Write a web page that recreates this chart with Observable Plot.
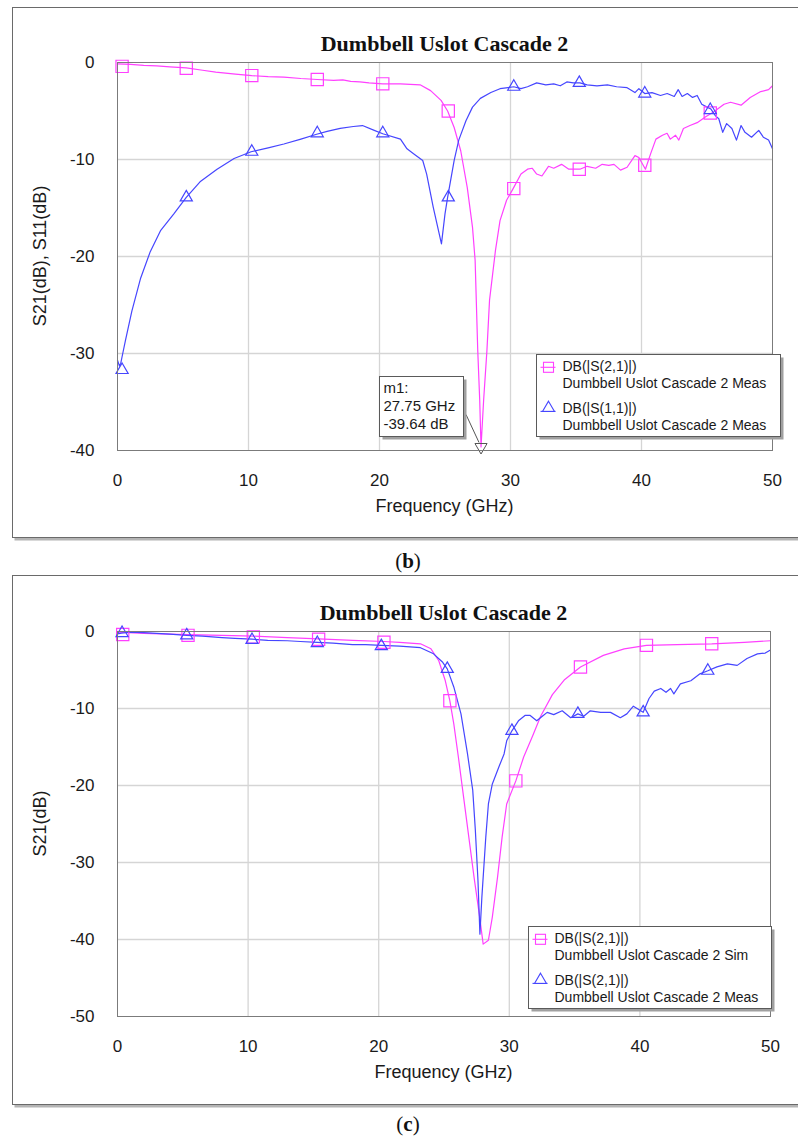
<!DOCTYPE html>
<html>
<head>
<meta charset="utf-8">
<script src="https://cdn.jsdelivr.net/npm/d3@7"></script>
<script src="https://cdn.jsdelivr.net/npm/@observablehq/plot@0.6"></script>
<style>
html, body { margin: 0; padding: 0; background: #fff; overflow: hidden; }
#page { position: relative; width: 798px; height: 1138px; background: #fff; overflow: hidden; }
</style>
</head>
<body>
<div id="page"></div>
<script>
// ---------- DATA ----------
const chartTitle = "Dumbbell Uslot Cascade 2";
const xTicks = [0, 10, 20, 30, 40, 50];
const yTicksB = [0, -10, -20, -30, -40];
const yTicksC = [0, -10, -20, -30, -40, -50];

// Panel (b): S21 measured
const freqB_S21 = [0,1,2,3,4,5.25,6.5,7.5,9,10.25,11.5,12.7,14,15.25,16.5,17.2,17.8,18.5,19.2,20.25,21.6,23.1,23.9,24.7,25.2,25.7,26.2,26.7,27.1,27.3,27.5,27.65,27.75,27.95,28.2,28.4,28.85,29.2,29.7,30.2,30.8,31.3,31.65,32.0,32.4,32.9,33.3,33.9,34.45,35.3,35.85,36.5,37.0,37.5,37.9,38.4,38.9,39.5,39.8,40.3,40.7,41.1,41.6,41.95,42.2,42.6,42.85,43.2,43.7,44.25,44.9,45.5,46.3,46.8,47.6,48.3,49.1,49.7,50];
const dbB_S21 = [-0.15,-0.2,-0.3,-0.35,-0.45,-0.55,-0.8,-1.0,-1.2,-1.35,-1.45,-1.5,-1.65,-1.75,-1.85,-1.8,-1.95,-2.0,-2.1,-2.2,-2.2,-2.3,-2.9,-3.9,-5.0,-6.7,-9.1,-12.9,-17.0,-20.4,-29.7,-34.8,-39.64,-34.8,-29.7,-24.5,-19.4,-16.3,-14.2,-13.0,-11.5,-11.0,-10.9,-11.5,-11.7,-10.7,-10.9,-10.5,-11.0,-11.0,-10.7,-10.9,-10.5,-10.6,-10.5,-11.1,-10.8,-9.6,-9.8,-11.0,-9.4,-7.9,-7.5,-7.3,-7.9,-7.5,-8.0,-6.8,-6.5,-6.2,-5.6,-5.1,-4.3,-4.1,-4.4,-3.6,-3.0,-2.8,-2.4];
// Panel (b): S11 measured
const freqB_S11 = [0,0.15,0.25,0.4,0.6,1.1,1.75,2.5,3.3,4.3,5.25,6.3,7.6,8.9,10.2,11.5,12.7,14,15.2,16,17,18,18.7,19.6,20.25,21.6,22.1,22.6,23.3,23.6,24.1,24.73,25.0,25.2,25.7,26.05,26.6,27.1,27.7,28.5,29.2,30.25,30.8,31.3,32.0,32.7,33.3,33.8,34.3,34.8,35.3,35.85,36.6,37.4,38.1,38.9,39.5,39.8,40.25,40.8,41.45,41.96,42.5,42.8,43.1,43.5,43.9,44.25,44.6,45.0,45.3,45.65,45.9,46.2,46.5,46.9,47.25,47.6,47.9,48.4,48.95,49.3,49.7,50];
const dbB_S11 = [-30.7,-31.3,-31.0,-30.0,-28.7,-25.6,-22.3,-19.5,-17.3,-15.6,-13.9,-12.3,-11.0,-9.9,-9.2,-8.8,-8.4,-7.9,-7.4,-7.1,-6.8,-6.6,-6.5,-7.0,-7.35,-7.9,-8.9,-9.4,-10.1,-11.5,-14.9,-18.7,-15.6,-13.9,-10.1,-8.0,-6.0,-4.6,-3.7,-3.1,-2.7,-2.5,-2.7,-2.5,-2.1,-2.3,-2.2,-2.4,-2.0,-2.1,-2.1,-2.3,-2.4,-2.3,-2.5,-2.6,-3.1,-2.7,-3.2,-3.1,-3.4,-3.2,-3.5,-2.8,-3.5,-3.2,-3.6,-3.4,-4.3,-4.6,-4.8,-5.5,-5.8,-7.2,-6.3,-6.8,-8.0,-6.5,-7.2,-7.7,-7.0,-7.7,-8.0,-8.9];
// Panel (b) symbol markers
const markFreqB_S21 = [0.35,5.25,10.25,15.25,20.25,25.25,30.25,35.25,40.25,45.25];
const markDbB_S21 = [-0.4,-0.6,-1.35,-1.75,-2.2,-5.0,-13.0,-11.0,-10.6,-5.2];
const markFreqB_S11 = [0.35,5.25,10.25,15.25,20.25,25.25,30.25,35.25,40.25,45.25];
const markDbB_S11 = [-31.7,-13.9,-9.2,-7.3,-7.3,-13.9,-2.5,-2.1,-3.2,-4.9];
// Marker m1
const m1Freq = [27.75];
const m1Db = [-39.64];
const m1Lines = ["m1:", "27.75 GHz", "-39.64 dB"];

// Panel (c): S21 simulated
const freqC_Sim = [0,2,5.4,8,10.4,13,15.4,18,20.4,21.6,23.2,24.0,24.6,25.1,25.45,25.75,26.1,26.5,26.9,27.3,27.7,28.0,28.4,28.7,29.1,29.45,29.8,30.5,31.1,31.8,32.4,33.3,34.2,35.45,37.2,38.8,40.5,42.85,45.5,48,50];
const dbC_Sim = [-0.1,-0.25,-0.4,-0.5,-0.6,-0.8,-0.95,-1.15,-1.3,-1.4,-1.6,-2.25,-3.8,-6.4,-9.0,-12.0,-16.3,-21.5,-26.7,-31.9,-36.7,-40.6,-40.1,-37.1,-31.9,-26.7,-22.4,-19.4,-16.3,-13.5,-11.0,-8.2,-6.3,-4.6,-3.1,-2.25,-1.8,-1.7,-1.6,-1.4,-1.2];
// Panel (c): S21 measured
const freqC_Meas = [0,0.3,1,2,3,4,5.3,6.5,8,9,10.3,11.5,13,14,15.3,16.5,18,19,20.2,21.6,23.2,24.2,24.9,25.25,25.75,26.3,26.8,27.2,27.4,27.6,27.75,27.9,28.2,28.4,28.7,29.2,29.6,29.8,30.2,30.7,31.2,31.6,32.1,32.6,32.9,33.4,34.05,34.7,35.25,35.7,36.2,37.0,37.75,38.5,39.0,39.5,40.25,40.7,41.1,41.6,42.0,42.35,42.6,43.1,43.9,44.6,45.2,45.9,46.7,47.45,48.2,49.0,49.6,50];
const dbC_Meas = [-0.3,-0.2,-0.1,-0.15,-0.25,-0.35,-0.5,-0.6,-0.8,-0.9,-1.0,-1.15,-1.2,-1.3,-1.4,-1.5,-1.7,-1.7,-1.8,-1.9,-2.1,-2.9,-4.0,-4.85,-7.2,-10.7,-15.9,-20.6,-25.8,-32.3,-39.3,-34.5,-26.7,-22.4,-19.8,-17.6,-15.9,-14.2,-12.9,-11.6,-10.9,-10.9,-11.6,-10.9,-10.5,-10.8,-10.3,-11.2,-10.7,-11.0,-10.3,-10.5,-10.5,-11.2,-10.7,-9.7,-10.5,-8.7,-7.75,-7.4,-7.9,-7.4,-8.1,-6.8,-6.4,-5.5,-5.1,-4.6,-4.2,-4.4,-3.5,-2.9,-2.8,-2.4];
// Panel (c) symbol markers
const markFreqC_Sim = [0.4,5.4,10.4,15.4,20.4,25.45,30.5,35.45,40.5,45.5];
const markDbC_Sim = [-0.4,-0.5,-0.7,-1.0,-1.4,-9.0,-19.4,-4.6,-1.8,-1.6];
const markFreqC_Meas = [0.35,5.3,10.3,15.3,20.2,25.25,30.2,35.25,40.25,45.2];
const markDbC_Meas = [-0.2,-0.5,-1.1,-1.5,-1.9,-4.85,-12.9,-10.7,-10.5,-5.1];

// Legends and labels
const legendB = [["DB(|S(2,1)|)", "Dumbbell Uslot Cascade 2 Meas"], ["DB(|S(1,1)|)", "Dumbbell Uslot Cascade 2 Meas"]];
const legendC = [["DB(|S(2,1)|)", "Dumbbell Uslot Cascade 2 Sim"], ["DB(|S(2,1)|)", "Dumbbell Uslot Cascade 2 Meas"]];
const yLabelB = "S21(dB), S11(dB)";
const yLabelC = "S21(dB)";
const xLabel = "Frequency (GHz)";

// ---------- STYLE ----------
const PINK = "#ff40ff";
const BLUE = "#4646ff";
const SANS = "'Liberation Sans', Arial, Helvetica, sans-serif";
const SERIF = "'Liberation Serif', 'Times New Roman', serif";

function toRows(xs, ys) {
  const n = Math.min(xs.length, ys.length);
  const out = [];
  for (let i = 0; i < n; i++) out.push({x: xs[i], y: ys[i]});
  return out;
}

function buildPanel(cfg) {
  const L = cfg.layout;
  const extra = [];
  if (cfg.m1) {
    extra.push(Plot.dot(toRows(cfg.m1.x, cfg.m1.y), {x: "x", y: "y", symbol: "triangle", rotate: 180, r: 4.5, stroke: "#555", fill: "none", strokeWidth: 1}));
  }
  const plot = Plot.plot({
    width: 798,
    height: L.height,
    marginLeft: L.left,
    marginRight: 798 - L.right,
    marginTop: L.top,
    marginBottom: L.height - L.bottom,
    style: {background: "transparent", fontFamily: SANS, fontSize: "17px", color: "#1a1a1a", overflow: "visible"},
    x: {domain: [0, 50], ticks: xTicks, tickSize: 0, tickPadding: 23, tickFormat: d => String(d), label: null},
    y: {domain: cfg.yDomain, ticks: cfg.yTicks, tickSize: 0, tickPadding: 23, tickFormat: d => String(d), label: null},
    marks: [
      Plot.ruleX(xTicks.filter(t => t > 0 && t < 50), {stroke: "#d5d5d5", strokeWidth: 1.3}),
      Plot.ruleY(cfg.yTicks.filter(t => t < 0 && t > cfg.yDomain[0]), {stroke: "#d5d5d5", strokeWidth: 1.3}),
      Plot.line(toRows(cfg.x1, cfg.y1), {x: "x", y: "y", stroke: PINK, strokeWidth: 1.2}),
      Plot.line(toRows(cfg.x2, cfg.y2), {x: "x", y: "y", stroke: BLUE, strokeWidth: 1.2}),
      Plot.dot(toRows(cfg.mx1, cfg.my1), {x: "x", y: "y", symbol: "square", r: 6.9, stroke: PINK, fill: "none", strokeWidth: 1.2}),
      Plot.dot(toRows(cfg.mx2, cfg.my2), {x: "x", y: "y", symbol: "triangle", r: 4.5, stroke: BLUE, fill: "none", strokeWidth: 1.2}),
      ...extra,
      Plot.frame({stroke: "#7b7b7b"})
    ]
  });
  plot.style.position = "absolute";
  plot.style.left = "0px";
  plot.style.top = cfg.top + "px";
  document.getElementById("page").appendChild(plot);

  const svg = d3.select(plot);
  let X, Y;
  try {
    const sx = plot.scale("x"), sy = plot.scale("y");
    X = v => sx.apply(v); Y = v => sy.apply(v);
  } catch (e) {
    const sx = d3.scaleLinear([0, 50], [L.left, L.right]);
    const sy = d3.scaleLinear(cfg.yDomain, [L.bottom, L.top]);
    X = sx; Y = sy;
  }

  // overlay group with explicit defaults
  const g = svg.append("g").attr("text-anchor", "start").attr("font-family", SANS).attr("fill", "#1a1a1a");

  // outer figure frame (behind everything)
  const bg = svg.insert("g", ":first-child");
  bg.append("rect").attr("x", 14.5).attr("y", L.frameTop + 3.5).attr("width", 900).attr("height", L.frameBottom - L.frameTop)
    .attr("fill", "#b4b4b4").attr("stroke", "none");
  bg.append("rect").attr("x", 12.5).attr("y", L.frameTop + 0.5).attr("width", 900).attr("height", L.frameBottom - L.frameTop)
    .attr("fill", "#fff").attr("stroke", "#6a6a6a").attr("stroke-width", 1);

  const cx = (L.left + L.right) / 2;
  // title
  g.append("text").attr("x", cx).attr("y", L.top - 11).attr("text-anchor", "middle")
    .attr("font-family", SERIF).attr("font-weight", "bold").attr("font-size", 22).attr("fill", "#111")
    .text(chartTitle);
  // axis labels
  g.append("text").attr("transform", `translate(40,${(L.top + L.bottom) / 2}) rotate(-90)`)
    .attr("text-anchor", "middle").attr("dy", "0.35em")
    .attr("font-size", 18).text(cfg.yLabel);
  g.append("text").attr("x", cx).attr("y", L.bottom + 62).attr("text-anchor", "middle")
    .attr("font-size", 18).text(xLabel);

  // legend
  const lb = cfg.legendBox;
  g.append("rect").attr("x", lb.x + 3).attr("y", lb.y + 3).attr("width", lb.w).attr("height", lb.h).attr("fill", "#a0a0a0").attr("stroke", "none");
  g.append("rect").attr("x", lb.x).attr("y", lb.y).attr("width", lb.w).attr("height", lb.h)
    .attr("fill", "#fff").attr("stroke", "#5a5a5a").attr("stroke-width", 1);
  cfg.legend.forEach((entry, i) => {
    const cy1 = lb.y + 12 + i * 41.6;
    const cy2 = cy1 + 16.6;
    const color = i === 0 ? PINK : BLUE;
    const sx = lb.x + 12;
    if (i === 0) {
      g.append("line").attr("x1", sx - 8).attr("x2", sx + 7).attr("y1", cy1 + 0.8).attr("y2", cy1 + 0.8).attr("stroke", color).attr("stroke-width", 1.1);
      g.append("rect").attr("x", sx - 5).attr("y", cy1 + 0.8 - 5).attr("width", 10).attr("height", 10).attr("fill", "none").attr("stroke", color).attr("stroke-width", 1.1);
    } else {
      g.append("line").attr("x1", sx - 8).attr("x2", sx + 7).attr("y1", cy1 + 3.3).attr("y2", cy1 + 3.3).attr("stroke", color).attr("stroke-width", 1.1);
      g.append("path").attr("transform", `translate(${sx},${cy1})`).attr("d", d3.symbol(d3.symbolTriangle, 62)())
        .attr("fill", "none").attr("stroke", color).attr("stroke-width", 1.1);
    }
    g.append("text").attr("x", lb.x + 26).attr("y", cy1).attr("dy", "0.35em").attr("text-anchor", "start")
      .attr("font-size", 14).text(entry[0]);
    g.append("text").attr("x", lb.x + 26).attr("y", cy2).attr("dy", "0.35em").attr("text-anchor", "start")
      .attr("font-size", 14).text(entry[1]);
  });

  // marker annotation box
  if (cfg.m1) {
    const mx = X(cfg.m1.x[0]), my = Y(cfg.m1.y[0]);
    const bx = Math.round(mx - 101.5) + 0.5, by = Math.round(my - 71) + 0.5, bw = 84, bh = 60;
    g.append("line").attr("x1", bx + bw + 2.5).attr("y1", by + 38).attr("x2", mx - 1.5).attr("y2", my - 4)
      .attr("stroke", "#555").attr("stroke-width", 1);
    g.append("rect").attr("x", bx + 3).attr("y", by + 3).attr("width", bw).attr("height", bh).attr("fill", "#a0a0a0").attr("stroke", "none");
    g.append("rect").attr("x", bx).attr("y", by).attr("width", bw).attr("height", bh)
      .attr("fill", "#fff").attr("stroke", "#5a5a5a");
    cfg.m1.lines.forEach((s, i) => {
      g.append("text").attr("x", bx + 4).attr("y", by + 16.5 + i * 18).attr("text-anchor", "start")
        .attr("font-size", 15).text(s);
    });
  }

  // caption
  const cap = g.append("text").attr("x", 408).attr("y", cfg.captionY).attr("text-anchor", "middle")
    .attr("font-family", SERIF).attr("font-size", 21).attr("fill", "#111");
  cap.append("tspan").text("(");
  cap.append("tspan").attr("font-weight", "bold").text(cfg.caption);
  cap.append("tspan").text(")");
}

buildPanel({
  top: 0,
  layout: {height: 575, left: 117, right: 772, top: 62, bottom: 450, frameTop: 7, frameBottom: 537},
  yDomain: [-40, 0], yTicks: yTicksB,
  x1: freqB_S21, y1: dbB_S21, x2: freqB_S11, y2: dbB_S11,
  mx1: markFreqB_S21, my1: markDbB_S21, mx2: markFreqB_S11, my2: markDbB_S11,
  m1: {x: m1Freq, y: m1Db, lines: m1Lines},
  legend: legendB, legendBox: {x: 536.5, y: 354.5, w: 244, h: 82},
  yLabel: yLabelB, caption: "b", captionY: 568
});

buildPanel({
  top: 568,
  layout: {height: 570, left: 117, right: 770, top: 63, bottom: 448, frameTop: 7, frameBottom: 536},
  yDomain: [-50, 0], yTicks: yTicksC,
  x1: freqC_Sim, y1: dbC_Sim, x2: freqC_Meas, y2: dbC_Meas,
  mx1: markFreqC_Sim, my1: markDbC_Sim, mx2: markFreqC_Meas, my2: markDbC_Meas,
  legend: legendC, legendBox: {x: 528.5, y: 358.5, w: 243, h: 82},
  yLabel: yLabelC, caption: "c", captionY: 563
});
</script>
</body>
</html>
